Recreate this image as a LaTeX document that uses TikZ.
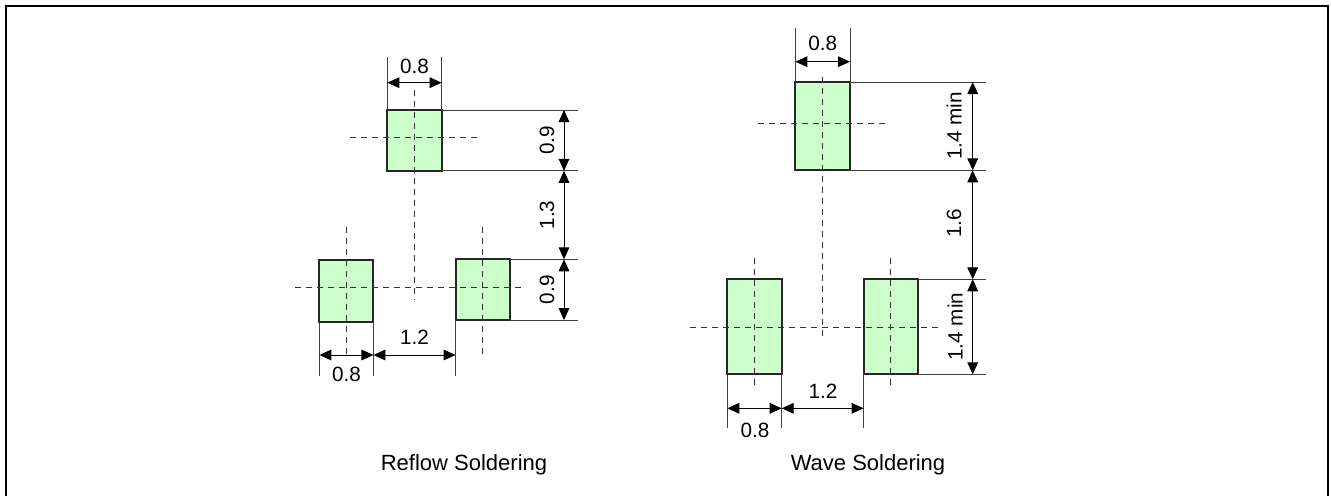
\documentclass[tikz,border=0pt]{standalone}
\usepackage{fontspec}
\setmainfont{Liberation Sans}
\usetikzlibrary{arrows.meta,calc}
\definecolor{padgreen}{RGB}{204,255,204}
\begin{document}
\begin{tikzpicture}[x=0.75pt,y=-0.75pt,
  pad/.style={draw=black!85,line width=1.5pt,fill=padgreen,inner sep=0pt,outer sep=0pt},
  ext/.style={line width=0.75pt,draw=black!75},
  dim/.style={line width=0.75pt,draw=black,{Triangle[length=9pt,width=8pt]}-{Triangle[length=9pt,width=8pt]}},
  cline/.style={line width=0.75pt,draw=black!80,dash pattern=on 4.5pt off 3.75pt},
  lbl/.style={font=\fontsize{15.5}{18}\selectfont,inner sep=0pt},
  ttl/.style={font=\fontsize{16.5}{19}\selectfont,inner sep=0pt}]
\useasboundingbox (0,0) rectangle (1331,496);
% frame
\draw[line width=1.5pt] (6,510) -- (6,6) -- (1328,6) -- (1328,510);

% ================= Reflow =================
\node[pad,minimum width=40.7pt,minimum height=45.6pt] (rt) at (414.5,140.4) {};
\node[pad,minimum width=40.5pt,minimum height=45.8pt] (rbl) at (346.4,291) {};
\node[pad,minimum width=40.8pt,minimum height=45.6pt] (rbr) at (482.7,289.7) {};

% centre lines
\draw[cline] (350,137.3) -- (479,137.3);
\draw[cline] (414.5,90) -- (414.5,300);
\draw[cline] (295,287.3) -- (521,287.3);
\draw[cline] (346.7,226.7) -- (346.7,354);
\draw[cline] (482.7,226.7) -- (482.7,354);

% top width
\coordinate (ry) at (0,82.7);
\draw[ext] (rt.north west) -- ++(0,-53.3);
\draw[ext] (rt.north east) -- ++(0,-53.3);
\draw[dim] (rt.north west |- ry) -- (rt.north east |- ry);
\node[lbl] (l1) at (414.5,66.7) {0.8};

% right heights
\coordinate (rx) at (564,0);
\draw[ext] (rt.north east) -- ++(136.5,0);
\draw[ext] (rt.south east) -- ++(136.5,0);
\draw[ext] (rbr.north east) -- ++(68,0);
\draw[ext] (rbr.south east) -- ++(68,0);
\draw[dim] (rt.north east -| rx) -- (rt.south east -| rx);
\draw[dim] (rt.south east -| rx) -- (rbr.north east -| rx);
\draw[dim] (rbr.north east -| rx) -- (rbr.south east -| rx);
\node[lbl,rotate=90] (l2) at (547,140.4) {0.9};
\node[lbl,rotate=90] (l3) at (547,215) {1.3};
\node[lbl,rotate=90] (l4) at (547,289.7) {0.9};

% bottom widths
\coordinate (rb) at (0,355);
\draw[ext] (rbl.south west) -- ++(0,54.8);
\draw[ext] (rbl.south east) -- ++(0,54.8);
\draw[ext] (rbr.south west) -- ++(0,56);
\draw[dim] (rbl.south west |- rb) -- (rbl.south east |- rb);
\draw[dim] (rbl.south east |- rb) -- (rbr.south west |- rb);
\node[lbl] (l5) at (346.5,374) {0.8};
\node[lbl] (l6) at (414.5,337) {1.2};

\node[ttl] (t1) at (464,465) {Reflow Soldering};

% ================= Wave =================
\node[pad,minimum width=41pt,minimum height=66.2pt] (wt) at (822.7,126.2) {};
\node[pad,minimum width=40.8pt,minimum height=71.25pt] (wbl) at (754.5,326.8) {};
\node[pad,minimum width=40.8pt,minimum height=71.25pt] (wbr) at (890.8,326.8) {};

% centre lines
\draw[cline] (758,123.7) -- (887.7,123.7);
\draw[cline] (822.7,76.7) -- (822.7,337.7);
\draw[cline] (690,327.3) -- (943,327.3);
\draw[cline] (754.7,258) -- (754.7,386.7);
\draw[cline] (890.7,258) -- (890.7,386.7);

% top width
\coordinate (wy) at (0,61.7);
\draw[ext] (wt.north west) -- ++(0,-54);
\draw[ext] (wt.north east) -- ++(0,-54);
\draw[dim] (wt.north west |- wy) -- (wt.north east |- wy);
\node[lbl] (m1) at (822.7,43.3) {0.8};

% right heights
\coordinate (wx) at (972.7,0);
\draw[ext] (wt.north east) -- ++(136,0);
\draw[ext] (wt.south east) -- ++(136,0);
\draw[ext] (wbr.north east) -- ++(68,0);
\draw[ext] (wbr.south east) -- ++(68,0);
\draw[dim] (wt.north east -| wx) -- (wt.south east -| wx);
\draw[dim] (wt.south east -| wx) -- (wbr.north east -| wx);
\draw[dim] (wbr.north east -| wx) -- (wbr.south east -| wx);
\node[lbl,rotate=90] (m2) at (954,126) {1.4 min};
\node[lbl,rotate=90] (m3) at (954,223.3) {1.6};
\node[lbl,rotate=90] (m4) at (955,326.7) {1.4 min};

% bottom widths
\coordinate (wb) at (0,408.3);
\draw[ext] (wbl.south west) -- ++(0,54);
\draw[ext] (wbl.south east) -- ++(0,54);
\draw[ext] (wbr.south west) -- ++(0,54);
\draw[dim] (wbl.south west |- wb) -- (wbl.south east |- wb);
\draw[dim] (wbl.south east |- wb) -- (wbr.south west |- wb);
\node[lbl] (m5) at (755,430) {0.8};
\node[lbl] (m6) at (823,391.7) {1.2};

\node[ttl] (t2) at (868,465) {Wave Soldering};
\end{tikzpicture}
\end{document}
